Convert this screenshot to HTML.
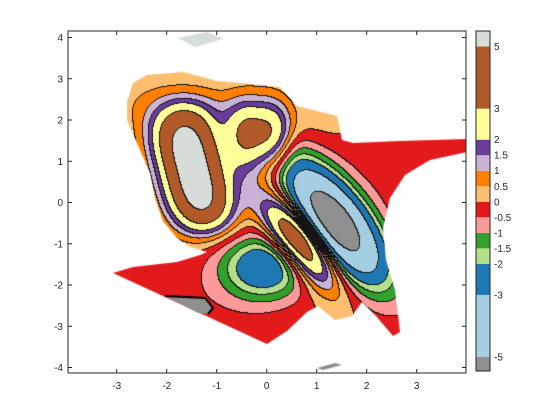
<!DOCTYPE html>
<html><head><meta charset="utf-8">
<style>
html,body{margin:0;padding:0;background:#fff;}
#wrap{position:relative;width:560px;height:420px;overflow:hidden;}
canvas,svg{position:absolute;left:0;top:0;}
text{font-family:"Liberation Sans",sans-serif;font-size:10px;fill:#262626;}
</style></head>
<body>
<div id="wrap">
<canvas id="cv" width="560" height="420"></canvas>
<svg id="sv" width="560" height="420"></svg>
</div>
<script>
// ---- data ----
const levels = [-5,-3,-2,-1.5,-1,-0.5,0,0.5,1,1.5,2,3,5];
const levelColors = ['#8f8f8f','#a6cee3','#1f78b4','#b2df8a','#33a02c','#fb9a99','#e31a1c','#fdbf6f','#ff7f00','#cab2d6','#6a3d9a','#ffff99','#b15928','#d6dcd7'];
const featX = [-1.47,-0.15,-1.0,0.67,1.36,-0.05,3.2,-1.5];
const featY = [0.79,1.58,2.2,-0.95,-0.47,-1.57,0.6,-2.4];
const featAmp = [6.4,3.5,0.7,5.7,-6.5,-2.9,-0.35,-0.3];
const featSigMaj = [1.2,0.48,1.5,0.82,1.15,0.6,1.3,1.2];
const featSigMin = [0.44,0.58,0.45,0.3,0.45,0.55,0.8,0.7];
const featAngle = [102,0,170,121,121,0,150,160];
const featPow = [1.8,1.5,1,1,1,1,1,1];
const xTicks = [-3,-2,-1,0,1,2,3];
const yTicks = [-4,-3,-2,-1,0,1,2,3,4];
const cbMin = -5.45, cbMax = 5.5;

// ---- layout ----
const AX = {l:68,r:466,t:31,b:373};
const X0 = 266.7, XS = 50, Y0 = 202.5, YS = 41.25;
const sx = v => X0 + v*XS;
const sy = v => Y0 - v*YS;
const ix = p => (p - X0)/XS;
const iy = p => (Y0 - p)/YS;
const CB = {x:476,w:14,t:31,b:371};
const cbY = v => CB.t + (cbMax - v)/(cbMax - cbMin)*(CB.b - CB.t);
const maskPoly = [[127,102],[133,83],[147,75],[183,72],[217,81],[253,84],[280,87],[297,106],[337,116],[342,140],[353,143],[400,141],[467,139],[467,152],[430,160],[405,175],[390,198],[383,228],[386,260],[395,290],[400,332],[393,336],[376,316],[362,302],[352,316],[335,320],[318,306],[307,312],[287,331],[267,344],[113,273],[133,267],[177,262],[200,255],[207,252],[190,247],[177,238],[163,221],[155,198],[150,173],[140,150],[127,120]];

function field(x,y){
  let z=0;
  for(let i=0;i<featX.length;i++){
    const a=featAngle[i]*Math.PI/180, c=Math.cos(a), s=Math.sin(a);
    const dx=x-featX[i], dy=y-featY[i];
    const u=dx*c+dy*s, v=-dx*s+dy*c;
    const q=u*u/(featSigMaj[i]*featSigMaj[i]);
    z+=featAmp[i]*Math.exp(-0.5*(Math.pow(q,featPow[i])+v*v/(featSigMin[i]*featSigMin[i])));
  }
  return z;
}
function levelIndex(z){let k=0;while(k<levels.length&&z>=levels[k])k++;return k;}
function hex(c){return [parseInt(c.substr(1,2),16),parseInt(c.substr(3,2),16),parseInt(c.substr(5,2),16)];}

const cv=document.getElementById('cv'), ctx=cv.getContext('2d');
const W=AX.r-AX.l, H=AX.b-AX.t;
const off=document.createElement('canvas'); off.width=W; off.height=H;
const octx=off.getContext('2d'); const img=octx.createImageData(W,H);
const idx=new Int8Array(W*H);
for(let j=0;j<H;j++)for(let i=0;i<W;i++){idx[j*W+i]=levelIndex(field(ix(AX.l+i+0.5),iy(AX.t+j+0.5)));}
const rgb=levelColors.map(hex);
for(let j=0;j<H;j++)for(let i=0;i<W;i++){
  const k=idx[j*W+i]; let col=rgb[k];
  if((i<W-1&&idx[j*W+i+1]!==k)||(j<H-1&&idx[(j+1)*W+i]!==k)) col=[20,20,20];
  const p=(j*W+i)*4; img.data[p]=col[0];img.data[p+1]=col[1];img.data[p+2]=col[2];img.data[p+3]=255;
}
octx.putImageData(img,0,0);
ctx.fillStyle='#fff';ctx.fillRect(0,0,560,420);
ctx.save();ctx.beginPath();
maskPoly.forEach((p,n)=>n?ctx.lineTo(p[0],p[1]):ctx.moveTo(p[0],p[1]));
ctx.closePath();ctx.clip();ctx.drawImage(off,AX.l,AX.t);ctx.restore();
function patch(pts,fill){ctx.beginPath();pts.forEach((p,n)=>n?ctx.lineTo(p[0],p[1]):ctx.moveTo(p[0],p[1]));ctx.closePath();ctx.fillStyle=fill;ctx.fill();}
patch([[178,38],[207,32],[223,39],[195,47]],levelColors[13]);
patch([[165,296],[205,298],[213,308],[208,314],[198,313]],levelColors[0]);
ctx.beginPath();ctx.moveTo(165,296);ctx.lineTo(205,298);ctx.lineTo(213,308);ctx.lineTo(208,314);ctx.strokeStyle='#000';ctx.lineWidth=2;ctx.stroke();
patch([[317,368],[335,363],[342,365],[323,370]],levelColors[0]);

// ---- axes SVG ----
const NS='http://www.w3.org/2000/svg', sv=document.getElementById('sv');
function el(tag,attrs,parent){const e=document.createElementNS(NS,tag);for(const k in attrs)e.setAttribute(k,attrs[k]);(parent||sv).appendChild(e);return e;}
const box=el('rect',{x:AX.l,y:AX.t,width:W,height:H,fill:'none',stroke:'#262626','stroke-width':1});


xTicks.forEach(v=>{
  const x=sx(v);
  const t=el('path',{d:`M${x},${AX.b}v-4M${x},${AX.t}v4`,stroke:'#262626'});
  
  
  const l=el('text',{x:x,y:389,'text-anchor':'middle'});l.textContent=v;
  
  
});
yTicks.forEach(v=>{
  const y=sy(v);
  const t=el('path',{d:`M${AX.l},${y}h4M${AX.r},${y}h-4`,stroke:'#262626'});
  
  
  const l=el('text',{x:63,y:y+3.5,'text-anchor':'end'});l.textContent=v;
  
  
});
// colorbar
const cb=el('g',{});


const edges=[cbMin].concat(levels,[cbMax]);
levelColors.forEach((c,k)=>{
  const y1=cbY(edges[k+1]), y0=cbY(edges[k]);
  const r=el('rect',{x:CB.x,y:y1,width:CB.w,height:y0-y1,fill:c},cb);
  
  
});
el('rect',{x:CB.x,y:CB.t,width:CB.w,height:CB.b-CB.t,fill:'none',stroke:'#262626'},cb);
levels.forEach(v=>{
  const t=el('text',{x:494,y:cbY(v)+3.5},cb);t.textContent=v;
  
  
});
</script>
</body></html>
